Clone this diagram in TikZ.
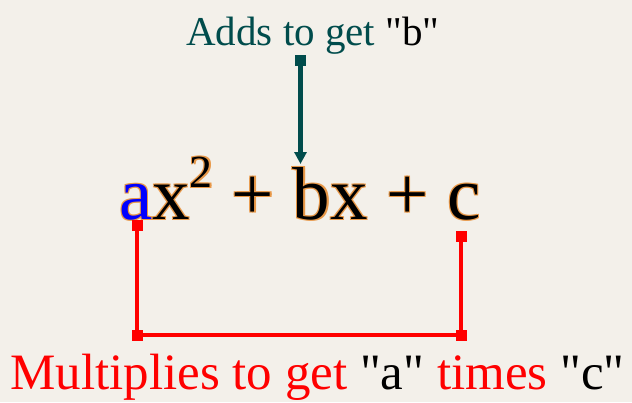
\documentclass[tikz,border=0pt]{standalone}
\usepackage{fontspec}
\usetikzlibrary{arrows.meta}
\setmainfont{Liberation Serif}[Ligatures=TeXOff]
\newfontfamily\tnr{Liberation Serif}[Ligatures=TeXOff]
\definecolor{bg}{RGB}{243,240,234}
\definecolor{teal1}{RGB}{0,76,76}
\definecolor{halo}{RGB}{232,152,72}
\definecolor{redl}{RGB}{255,0,0}
\newcommand{\eqtext}[1]{{\color{#1}a}x\raisebox{32pt}{\fontsize{46}{48}\selectfont 2} + bx + c}
\begin{document}
\begin{tikzpicture}[x=1pt,y=-1pt,
  lbl/.style={inner sep=0pt,anchor=base west},
  eqf/.style={lbl,font=\tnr\fontsize{75}{80}\selectfont},
  redline/.style={draw=redl,line width=4.5pt},
  sq/.style={fill=#1,minimum size=11pt,inner sep=0pt,draw=none}]
\fill[bg] (0,0) rectangle (632,402);
\useasboundingbox (0,0) rectangle (632,402);
% top label
\node[lbl,font=\tnr\fontsize{41}{44}\selectfont,text=teal1] (adds) at (186,45) {Adds to get \textcolor{black}{"b"}};
% equation with orange halo
\foreach \dx/\dy in {1.3/1.3,-1.2/1.2,1.3/-1.0,-1.0/-1.0}
  \node[eqf,text=halo] at (119+\dx,219+\dy) {\eqtext{halo}};
\node[eqf] (eq) at (119,219) {\eqtext{blue}};
% teal arrow
\node[sq=teal1] (tstart) at (300.5,60) {};
\coordinate (btop) at (300.5,164);
\draw[teal1,line width=4.5pt,-{Triangle[width=12pt,length=12pt]}] (tstart.center) -- (btop);
% red bracket
\node[sq=redl] (ra) at (137,225) {};
\node[sq=redl] (rc) at (461,236) {};
\node[sq=redl] (rbl) at (137,335) {};
\node[sq=redl] (rbr) at (461,335) {};
\draw[redline] (ra.center) -- (rbl.center) -- (rbr.center) -- (rc.center);
% bottom label
\node[lbl,font=\tnr\fontsize{51}{56}\selectfont,text=redl] (mult) at (10,389) {Multiplies to get \textcolor{black}{"a"} times \textcolor{black}{"c"}};
\end{tikzpicture}
\end{document}
